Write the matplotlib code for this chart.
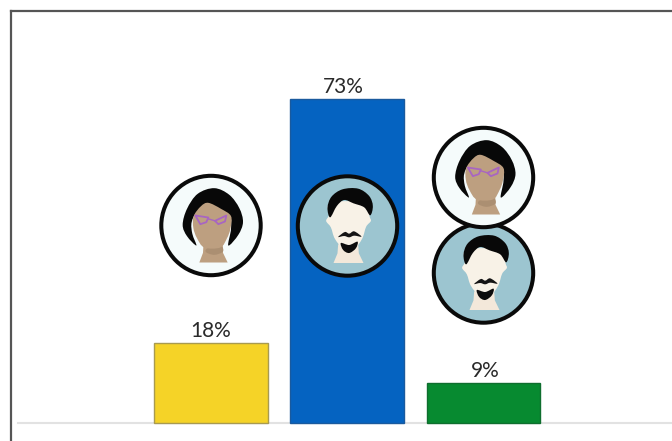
import matplotlib
matplotlib.use("Agg")
import matplotlib.pyplot as plt
import matplotlib.patches as patches
from matplotlib.path import Path
import numpy as np

# Bar values
categories = ["women", "men", "both"]
shares = [18, 73, 9]
share_labels = ["18%", "73%", "9%"]
bar_colors = ["#f5d327", "#0563c1", "#078a30"]
edge_colors = ["#a89a50", "#1a5a9e", "#0f6e2e"]

W, H = 672, 441
plt.rcParams["font.family"] = ["Lato", "DejaVu Sans"]


def to_px(points, cx, cy):
    # Icon outlines are given on a 360 px grid (3x) with the circle centred at 180,180
    return [(cx + (x - 180) / 3, cy + (y - 180) / 3) for x, y in points]


def smooth_path(points):
    # Closed Catmull-Rom outline turned into bezier segments
    pts = np.array(points, dtype=float)
    n = len(pts)
    verts = [pts[0]]
    codes = [Path.MOVETO]
    for i in range(n):
        p0, p1, p2, p3 = pts[i - 1], pts[i], pts[(i + 1) % n], pts[(i + 2) % n]
        verts += [p1 + (p2 - p0) / 6, p2 - (p3 - p1) / 6, p2]
        codes += [Path.CURVE4] * 3
    return Path(verts, codes)


def draw_shape(ax, points, cx, cy, color, smooth=True, zorder=5):
    pts = to_px(points, cx, cy)
    path = smooth_path(pts) if smooth else Path(pts + [pts[0]], closed=True)
    ax.add_patch(patches.PathPatch(path, facecolor=color, edgecolor="none", zorder=zorder))


def draw_man(ax, cx, cy):
    ax.add_patch(patches.Circle((cx, cy), 49.7, facecolor="#9cc5d0", edgecolor="#0a0a0a", linewidth=2.9, zorder=4))
    draw_shape(ax, [(152, 235), (212, 235), (214, 262), (228, 291), (138, 291), (150, 262)], cx, cy, "#f3e8da", smooth=False)
    draw_shape(ax, [(130, 110), (240, 110), (246, 150), (250, 165), (236, 182), (224, 218), (200, 248),
                    (168, 248), (142, 218), (130, 184), (116, 165), (124, 148)], cx, cy, "#f8f2e7")
    # hair, two lobes parted on the left
    draw_shape(ax, [(120, 125), (132, 92), (165, 70), (212, 68), (245, 90), (256, 120), (248, 148),
                    (230, 124), (198, 112), (170, 102), (148, 120), (128, 154)], cx, cy, "#080808", zorder=6)
    # moustache and beard
    draw_shape(ax, [(152, 213), (172, 198), (185, 203), (200, 196), (222, 212), (200, 209), (185, 214), (170, 210)],
               cx, cy, "#141414", zorder=6)
    draw_shape(ax, [(160, 231), (185, 237), (210, 227), (205, 247), (185, 261), (167, 252)], cx, cy, "#0c0c0c", zorder=6)


def draw_woman(ax, cx, cy):
    ax.add_patch(patches.Circle((cx, cy), 49.7, facecolor="#f5fbfb", edgecolor="#0a0a0a", linewidth=2.9, zorder=4))
    tan = "#bd9f80"
    draw_shape(ax, [(158, 225), (215, 225), (216, 262), (230, 291), (145, 291), (156, 262)], cx, cy, tan, smooth=False)
    # hair sits behind the face with the two tips hanging down
    draw_shape(ax, [(190, 68), (140, 85), (108, 130), (95, 178), (108, 212), (136, 240), (124, 205), (122, 170),
                    (140, 140), (190, 130), (235, 150), (240, 190), (232, 240), (262, 208), (276, 170),
                    (265, 128), (235, 88)], cx, cy, "#080808")
    draw_shape(ax, [(128, 152), (150, 122), (172, 112), (210, 130), (240, 152), (238, 190), (228, 218), (208, 246),
                    (160, 246), (138, 218), (127, 187)], cx, cy, tan, zorder=6)
    # neck shadow
    draw_shape(ax, [(170, 248), (208, 240), (216, 258), (190, 268), (165, 260)], cx, cy, "#ab8f72", zorder=5)
    for lens in ([(133, 150), (172, 156), (166, 170), (148, 176)], [(192, 166), (226, 150), (222, 168), (202, 176)]):
        ax.add_patch(patches.Polygon(to_px(lens, cx, cy), closed=True, facecolor="none", edgecolor="#a865c2",
                                     linewidth=1.3, joinstyle="round", zorder=8))
    ax.plot(*zip(*to_px([(172, 160), (192, 166)], cx, cy)), color="#a865c2", linewidth=1.0, zorder=8)


fig = plt.figure(figsize=(W / 100, H / 100), dpi=100)

# Bars on a plain category axis, baseline at 423 px
ax = fig.add_axes([18 / W, (H - 423) / H, (W - 18) / W, 411 / H])
x = np.arange(len(categories))
ax.bar(x, shares, width=0.835, color=bar_colors, edgecolor=edge_colors, linewidth=1.0, zorder=3, clip_on=False)
# labels are nudged a little off the bar centres
label_dx = [0, -3, 1.5]
for xi, v, label, dx in zip(x, shares, share_labels, label_dx):
    ax.annotate(label, (xi, v), xytext=(dx, 1.6), textcoords="offset points", ha="center", va="bottom",
                fontsize=15, color="#2a2a2a", zorder=4)
ax.set_xlim((18 - 211) / 136.25, (W - 211) / 136.25)
ax.set_ylim(0, 411 / 4.44)
ax.set_xticks([])
ax.set_yticks([])
for side in ["top", "right", "left"]:
    ax.spines[side].set_visible(False)
ax.spines["bottom"].set_color("#e2e2e2")
ax.spines["bottom"].set_linewidth(1.5)
ax.spines["bottom"].set_zorder(1)

# Overlay in pixel coordinates for the outer frame and the avatars
over = fig.add_axes([0, 0, 1, 1])
over.set_xlim(0, W)
over.set_ylim(H, 0)
over.axis("off")
over.patch.set_alpha(0)
over.plot([11, 11], [H, 11], color="#555555", linewidth=1.6, solid_capstyle="projecting", zorder=1)
over.plot([11, W], [11, 11], color="#555555", linewidth=1.6, solid_capstyle="projecting", zorder=1)

draw_woman(over, 211, 225.5)
draw_man(over, 347.5, 226)
draw_man(over, 483.5, 273)
draw_woman(over, 483.5, 177.5)

fig.savefig("out.png", dpi=100)
